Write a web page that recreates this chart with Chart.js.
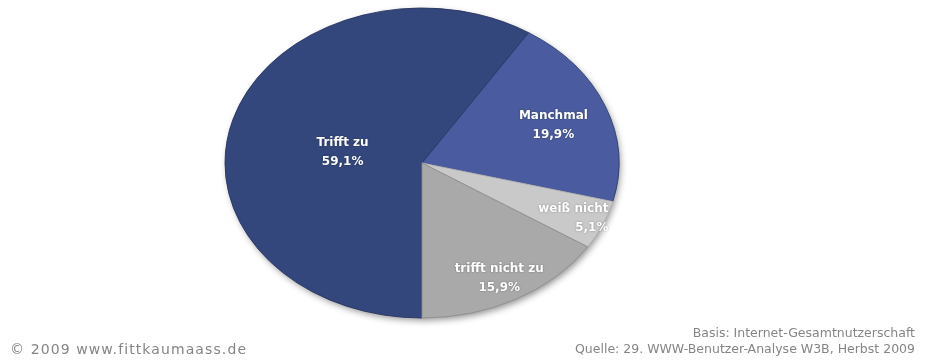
<!DOCTYPE html>
<html>
<head>
<meta charset="utf-8">
<script src="https://cdn.jsdelivr.net/npm/chart.js@4.4.1/dist/chart.umd.min.js"></script>
<style>
  html, body { margin: 0; padding: 0; background: #fff; }
  #wrap { position: relative; width: 925px; height: 363px; }
  .foot { position: absolute; font-family: "DejaVu Sans", sans-serif; color: #858585; font-size: 12.5px; line-height: 16px; }
  #left { left: 10px; top: 341px; font-size: 14px; letter-spacing: 1.1px; }
  #right { right: 10px; top: 325px; text-align: right; }
</style>
</head>
<body>
<div id="wrap">
  <canvas id="myChart" width="925" height="363"></canvas>
  <div class="foot" id="left">© 2009 www.fittkaumaass.de</div>
  <div class="foot" id="right">Basis: Internet-Gesamtnutzerschaft<br>Quelle: 29. WWW-Benutzer-Analyse W3B, Herbst 2009</div>
</div>
<script>
var labels = ['Trifft zu', 'Manchmal', 'weiß nicht', 'trifft nicht zu'];
var values = [59.1, 19.9, 5.1, 15.9];

var colors = ['#34477d', '#4a5c9f', '#c9c9c9', '#a9a9a9'];
var borders = ['#25335e', '#2b3b6c', '#b4b4b4', '#8e8e8e'];
// label placement per slice: fraction of radius, extra x/y nudge, alignment
var labelPos = [0.42, 0.7, 0.85, 0.85];
var labelNudge = [[0, 8], [3, 2], [33, 3], [-3, 0]];
var labelAlign = ['center', 'center', 'right', 'center'];

var squash = 155 / 197; // pie is drawn tilted, as an ellipse

function fmt(v) { return v.toFixed(1).replace('.', ',') + '%'; }

var tiltPlugin = {
  id: 'tilt',
  beforeDatasetsDraw: function(chart) {
    var arc = chart.getDatasetMeta(0).data[0];
    var ctx = chart.ctx;
    ctx.save();
    ctx.translate(arc.x, arc.y);
    ctx.scale(1, squash);
    ctx.translate(-arc.x, -arc.y);
    // soft drop shadow under the disc
    ctx.save();
    ctx.shadowColor = 'rgba(0,0,0,0.45)';
    ctx.shadowBlur = 7;
    ctx.shadowOffsetX = 2;
    ctx.shadowOffsetY = 3;
    ctx.beginPath();
    ctx.arc(arc.x, arc.y, arc.outerRadius - 1, 0, Math.PI * 2);
    ctx.fillStyle = '#33467c';
    ctx.fill();
    ctx.restore();
  },
  afterDatasetsDraw: function(chart) {
    var ctx = chart.ctx;
    ctx.restore();
    var meta = chart.getDatasetMeta(0);
    ctx.save();
    ctx.fillStyle = '#ffffff';
    ctx.font = 'bold 12px "DejaVu Sans", sans-serif';
    ctx.textBaseline = 'middle';
    ctx.shadowColor = 'rgba(0,0,0,0.35)';
    ctx.shadowBlur = 2;
    meta.data.forEach(function(a, i) {
      var mid = (a.startAngle + a.endAngle) / 2;
      var r = a.outerRadius * labelPos[i];
      var x = a.x + Math.cos(mid) * r + labelNudge[i][0];
      var y = a.y + Math.sin(mid) * r * squash + labelNudge[i][1];
      ctx.textAlign = labelAlign[i];
      ctx.fillText(labels[i], x, y - 9.5);
      ctx.fillText(fmt(values[i]), x, y + 9.5);
    });
    ctx.restore();
  }
};

var ctx = document.getElementById('myChart').getContext('2d');
var chart = new Chart(ctx, {
  type: 'pie',
  data: {
    labels: labels,
    datasets: [{
      data: values,
      backgroundColor: colors,
      borderColor: borders,
      borderWidth: 1,
      radius: 197
    }]
  },
  options: {
    responsive: false,
    animation: false,
    rotation: 180,
    layout: { padding: { left: 0, right: 81, top: 0, bottom: 37 } },
    plugins: {
      legend: { display: false },
      tooltip: { enabled: false }
    }
  },
  plugins: [tiltPlugin]
});
</script>
</body>
</html>
